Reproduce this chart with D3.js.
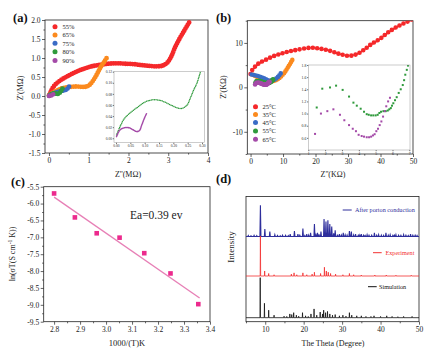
<!DOCTYPE html>
<html>
<head>
<meta charset="utf-8">
<script src="https://cdn.jsdelivr.net/npm/d3@7"></script>
<style>
  body { margin: 0; background: #fff; }
  svg { display: block; }
</style>
</head>
<body>
<svg id="fig" width="430" height="356"></svg>
<script>
// ---- (a) humidity Nyquist data (MOhm) ----
const humLabels = ['55%', '65%', '75%', '80%', '90%'];
const humColors = ['#f5282a', '#fb8a1e', '#3a6cc6', '#2f9a3c', '#a44aa8'];
const rh55 = [[0.02,0.04],[0.06,0.15],[0.15,0.29],[0.3,0.42],[0.45,0.51],[0.65,0.62],[0.86,0.71],[1.07,0.78],[1.28,0.82],[1.5,0.85],[1.7,0.86],[1.9,0.85],[2.12,0.84],[2.35,0.81],[2.55,0.79],[2.72,0.78],[2.86,0.8],[2.98,0.88],[3.08,1.05],[3.18,1.3],[3.28,1.5],[3.38,1.68],[3.47,1.84],[3.55,1.98]];
const rh65 = [[0.0,0.02],[0.1,0.09],[0.25,0.17],[0.4,0.22],[0.55,0.24],[0.7,0.25],[0.85,0.24],[0.95,0.25],[1.03,0.3],[1.12,0.42],[1.22,0.6],[1.31,0.78],[1.39,0.9],[1.45,1.0]];
const rh75 = [[0.02,0.02],[0.1,0.06],[0.2,0.1],[0.3,0.13],[0.38,0.15],[0.44,0.17],[0.48,0.21],[0.52,0.27]];
const rh80 = [[0.002,0.006],[0.014,0.021],[0.03,0.036],[0.055,0.048],[0.078,0.057],[0.1,0.065],[0.125,0.069],[0.148,0.069],[0.171,0.065],[0.195,0.059],[0.218,0.054],[0.232,0.054],[0.248,0.06],[0.259,0.072],[0.271,0.087],[0.282,0.099],[0.295,0.12],[0.32,0.16],[0.34,0.2]];
const rh90 = [[0.002,0.003],[0.014,0.015],[0.03,0.019],[0.045,0.019],[0.06,0.015],[0.072,0.012],[0.082,0.014],[0.09,0.024],[0.099,0.036],[0.107,0.045]];

// ---- (b) temperature Nyquist data (KOhm) ----
const tempLabels = ['25°C', '35°C', '45°C', '55°C', '65°C'];
const tempColors = ['#f5282a', '#fb8a1e', '#3a6cc6', '#2f9a3c', '#a44aa8'];
const t25 = [[0,3.0],[0.5,3.9],[1.3,4.6],[2.5,5.4],[4.4,6.1],[7,7.0],[9.5,7.6],[12,8.1],[14.7,8.5],[18.3,8.9],[20.5,8.8],[22.9,8.5],[25,8.1],[27,7.6],[28.5,7.3],[30,7.1],[31.5,7.2],[33.1,7.6],[35,8.5],[37.3,9.8],[40,11.0],[42.4,12.4],[45.5,13.8],[48.6,14.9],[50,15.5]];
const t35 = [[0.8,2.8],[2.2,2.3],[3.9,1.8],[5.4,1.35],[7,1.4],[8.5,1.9],[10,2.9],[11.6,4.6],[13.1,6.5]];
const t45 = [[0.3,2.9],[1.5,2.7],[2.9,2.4],[4.2,2.0],[5.4,1.6],[7,1.6],[8.5,2.4],[9.5,3.4]];
const t55 = [[1.5,1.1],[1.83,1.41],[2.29,1.43],[2.65,1.46],[3.04,1.39],[3.42,1.28],[3.68,1.18],[3.88,1.13],[4.11,1.08],[4.31,1.03],[4.47,0.99],[4.59,0.98],[4.73,0.97],[4.86,0.97],[5.0,0.97],[5.12,0.98],[5.22,1.01],[5.32,1.03],[5.46,1.04],[5.6,1.04],[5.72,1.05],[5.81,1.07],[5.9,1.09],[5.97,1.13],[6.05,1.17],[6.15,1.22],[6.25,1.27],[6.37,1.34],[6.49,1.4],[6.61,1.47],[6.69,1.55],[6.76,1.64],[6.85,1.72],[6.92,1.79]];
const t65 = [[1.4,0.665],[1.75,1.0],[2.13,1.04],[2.49,1.07],[2.88,0.98],[3.14,0.89],[3.42,0.81],[3.64,0.75],[3.83,0.71],[3.99,0.65],[4.17,0.63],[4.31,0.62],[4.47,0.61],[4.61,0.61],[4.73,0.62],[4.84,0.64],[4.94,0.66],[5.04,0.71],[5.14,0.75],[5.24,0.81],[5.34,0.87],[5.44,0.95],[5.54,1.04],[5.63,1.12],[5.74,1.2],[5.85,1.26]];

// ---- (c) Arrhenius data ----
const invT = [2.80, 2.88, 2.964, 3.052, 3.147, 3.248, 3.355];
const lnSigmaT = [-5.70, -6.41, -6.88, -7.01, -7.47, -8.07, -8.98];

// ---- (d) PXRD peaks [2theta, height] ----
const simPeaks = [[8.7,32],[9.8,11.5],[10.9,6],[12.3,2],[14.9,1.2],[15.6,1],[16.4,3],[16.9,2.5],[17.4,4],[18.1,2],[18.7,1.2],[19.7,4],[20.5,1.5],[21.2,1],[21.9,3],[22.7,7],[23.4,2],[24.3,4.5],[24.9,3],[25.2,6],[25.7,4],[26.2,5],[26.8,3],[27.5,2],[28.2,2.5],[29.3,1.5],[30.2,2],[31.0,1.2],[31.9,4],[32.5,2],[33.8,1.5],[35,1.5],[36.2,1],[37.5,1],[38.3,1.5],[40,1],[41.6,1.5],[43,1],[44.5,0.8],[46,1],[48.2,1]];
const expPeaks = [[8.75,32],[9.85,4],[10.9,2],[12.3,1],[16.8,1.5],[17.5,2.5],[18.2,1],[19.8,2.5],[20.8,1],[22.2,1.5],[22.8,3],[24.4,2],[25.4,7],[25.9,4],[26.4,3],[27,2],[28.3,1.5],[30.2,1],[31.9,2],[33,1],[35,0.8],[38.5,0.8],[41.5,0.8],[44,0.6],[48,0.6]];
const afterPeaks = [[5.6,0.8],[6.3,0.6],[7.1,0.9],[7.8,0.7],[8.75,25],[9.9,6],[11.2,4],[12.5,1.5],[13.2,0.8],[13.9,0.6],[14.5,1],[15.3,0.9],[16.0,0.7],[16.5,2],[17.6,4.5],[18.5,2],[19.0,1],[19.8,6.5],[20.3,0.8],[20.8,2],[21.3,1.2],[21.8,3],[22.8,10],[23.2,1.5],[23.6,3],[24.0,1.8],[24.5,4],[25.3,14],[25.8,12],[26.3,13],[26.8,10],[27.3,8],[27.8,2.5],[28.2,5],[28.8,1.6],[29.3,2],[29.8,1.2],[30.3,3],[30.8,1.4],[31.3,1.2],[31.9,4.5],[32.4,4],[33.0,1.3],[33.5,2],[34.2,1],[34.6,1.2],[35,2],[35.6,1],[36.0,0.8],[36.5,1.5],[37.0,1],[37.7,1],[38.4,3],[39.0,1],[39.5,1.5],[40.2,1.1],[40.8,0.9],[41.4,3],[42.0,1.1],[42.5,1.5],[43.2,0.9],[43.6,1],[44,1.5],[44.7,1],[45.3,0.9],[46,1.5],[46.6,1],[47.2,0.8],[47.8,2],[48.4,1],[49,1],[49.5,0.8]];
const xrdLabels = ['After porton conduction', 'Experiment', 'Simulation'];
const xrdColors = ['#2e2e9c', '#f23030', '#111111'];
const xrdOffsets = [68, 36.5, 3.2];

const serif = "'Liberation Serif','Times New Roman',serif";
const svg = d3.select('#fig').attr('font-family', serif);

// box + bottom/left axes with major and minor ticks
function drawAxes(g, x, y, o) {
    const [x0, x1] = x.range();
    const [y0, y1] = y.range();
    const fs = o.fs || 7.5;
    const style = s => {
        s.select('.domain').remove();
        s.attr('font-family', serif).attr('font-size', fs);
        s.selectAll('line').attr('stroke', '#222').attr('stroke-width', 0.7);
        s.selectAll('text').attr('fill', '#222');
    };
    if (o.xMinor) g.append('g').attr('transform', `translate(0,${y0})`)
        .call(d3.axisBottom(x).tickValues(o.xMinor).tickSize(o.minor || 1.6).tickFormat('')).call(style);
    g.append('g').attr('transform', `translate(0,${y0})`)
        .call(d3.axisBottom(x).tickValues(o.xTicks).tickSize(o.major || 3).tickPadding(o.pad || 1.5).tickFormat(o.xFmt)).call(style);
    if (o.yTicks) {
        if (o.yMinor) g.append('g').attr('transform', `translate(${x0},0)`)
            .call(d3.axisLeft(y).tickValues(o.yMinor).tickSize(o.minor || 1.6).tickFormat('')).call(style);
        g.append('g').attr('transform', `translate(${x0},0)`)
            .call(d3.axisLeft(y).tickValues(o.yTicks).tickSize(o.major || 3).tickPadding(o.pad || 1.5).tickFormat(o.yFmt)).call(style);
    }
    g.append('rect')
        .attr('x', x0).attr('y', y1).attr('width', x1 - x0).attr('height', y0 - y1)
        .attr('fill', 'none').attr('stroke', o.border || '#222').attr('stroke-width', o.bw || 0.8);
}

function clipFor(id, x, y) {
    const [x0, x1] = x.range();
    const [y0, y1] = y.range();
    svg.append('clipPath').attr('id', id).append('rect')
        .attr('x', x0).attr('y', y1).attr('width', x1 - x0).attr('height', y0 - y1);
    return svg.append('g').attr('clip-path', `url(#${id})`);
}

// dense dotted series: dots laid along a curve through the read points
function dotted(g, data, x, y, color, w, gap) {
    g.append('path')
        .datum(data)
        .attr('d', d3.line().x(d => x(d[0])).y(d => y(d[1])).curve(d3.curveCatmullRom))
        .attr('fill', 'none')
        .attr('stroke', color)
        .attr('stroke-width', w)
        .attr('stroke-linecap', 'round')
        .attr('stroke-dasharray', `0 ${gap}`);
}

function dots(g, data, x, y, color, r) {
    g.selectAll(null).data(data).enter().append('circle')
        .attr('cx', d => x(d[0])).attr('cy', d => y(d[1])).attr('r', r)
        .attr('fill', color);
}

function label(txt, x, y, size, opts = {}) {
    const t = svg.append('text')
        .attr('x', x).attr('y', y)
        .attr('font-size', size)
        .attr('text-anchor', opts.anchor || 'middle')
        .attr('fill', opts.fill || '#222')
        .attr('font-weight', opts.bold ? 'bold' : null)
        .text(txt);
    if (opts.rotate) t.attr('transform', `rotate(-90,${x},${y})`);
    return t;
}

const fmt1 = v => v.toFixed(1);
const fmt2 = v => v.toFixed(2);
const fmtD = v => String(v);

// ================= (a) =================
const ax = d3.scaleLinear().domain([-0.1, 4]).range([45, 208]);
const ay = d3.scaleLinear().domain([-1.5, 2]).range([153, 20]);
drawAxes(svg.append('g'), ax, ay, {
    xTicks: [0, 1, 2, 3, 4], xMinor: [0.5, 1.5, 2.5, 3.5], xFmt: fmtD,
    yTicks: d3.range(-1.5, 2.01, 0.5), yMinor: d3.range(-1.25, 2, 0.5), yFmt: fmt1
});
const aPlot = clipFor('clipA', ax, ay);
[rh55, rh65, rh75, rh80, rh90].forEach((s, i) => dotted(aPlot, s, ax, ay, humColors[i], 4.8, 2.4));
humLabels.forEach((l, i) => {
    const yy = [26.7, 35, 43.3, 51.7, 60.5][i];
    svg.append('circle').attr('cx', 55).attr('cy', yy).attr('r', 2.5).attr('fill', humColors[i]);
    label(l, 62.5, yy + 2.2, 6.5, { anchor: 'start' });
});
label("Z''(MΩ)", 128, 177, 8);
label("Z'(MΩ)", 23, 88, 8, { rotate: true });
label('(a)', 13, 21.5, 12.5, { anchor: 'start', bold: true, fill: '#111' });

// inset (a)
const iax = d3.scaleLinear().domain([-0.007, 0.308]).range([114, 204.3]);
const iay = d3.scaleLinear().domain([-0.008, 0.12]).range([142.7, 71.7]);
svg.append('rect').attr('x', 114).attr('y', 71.7).attr('width', 90.3).attr('height', 71)
    .attr('fill', '#fff');
const iaPlot = clipFor('clipIA', iax, iay);
dotted(iaPlot, rh80, iax, iay, humColors[3], 1.5, 1.6);
dotted(iaPlot, rh90, iax, iay, humColors[4], 1.6, 0.9);
drawAxes(svg.append('g'), iax, iay, {
    xTicks: d3.range(0, 0.31, 0.05), xFmt: fmt2,
    yTicks: d3.range(0, 0.121, 0.02), yFmt: fmt2,
    fs: 3.6, major: 1.2, pad: 0.8, border: '#999', bw: 0.5
});

// ================= (b) =================
const bx = d3.scaleLinear().domain([-1, 50]).range([247.3, 413]);
const by = d3.scaleLinear().domain([-15, 15]).range([154, 20.7]);
drawAxes(svg.append('g'), bx, by, {
    xTicks: [0, 10, 20, 30, 40, 50], xMinor: [5, 15, 25, 35, 45], xFmt: fmtD,
    yTicks: [-10, 0, 10], yMinor: [-15, -5, 5, 15], yFmt: fmtD
});
const bPlot = clipFor('clipB', bx, by);
dotted(bPlot, t25, bx, by, tempColors[0], 4.6, 4.4);
dotted(bPlot, t35, bx, by, tempColors[1], 4.6, 2.2);
dotted(bPlot, t45, bx, by, tempColors[2], 4.6, 2.2);
dots(bPlot, t55, bx, by, tempColors[3], 2.3);
dots(bPlot, t65, bx, by, tempColors[4], 2.3);
tempLabels.forEach((l, i) => {
    const yy = [106.7, 114.5, 122.5, 131, 139.3][i];
    svg.append('circle').attr('cx', 255.5).attr('cy', yy).attr('r', 2.5).attr('fill', tempColors[i]);
    label(l, 262.5, yy + 2.2, 6.5, { anchor: 'start' });
});
label("Z''(KΩ)", 333, 177, 8);
label("Z'(KΩ)", 226, 87, 8, { rotate: true });
label('(b)', 216, 21.5, 12.5, { anchor: 'start', bold: true, fill: '#111' });

// inset (b)
const ibx = d3.scaleLinear().domain([1, 7.04]).range([308.3, 410]);
const iby = d3.scaleLinear().domain([0.4, 1.8]).range([150, 65]);
svg.append('rect').attr('x', 308.3).attr('y', 65).attr('width', 101.7).attr('height', 85).attr('fill', '#fff');
const ibPlot = clipFor('clipIB', ibx, iby);
[t55, t65].forEach((s, k) => {
    ibPlot.selectAll(null).data(s).enter().append('rect')
        .attr('x', d => ibx(d[0]) - 1).attr('y', d => iby(d[1]) - 1)
        .attr('width', 2).attr('height', 2)
        .attr('fill', tempColors[3 + k]);
});
drawAxes(svg.append('g'), ibx, iby, {
    xTicks: [1, 2, 3, 4, 5, 6, 7], xFmt: fmtD,
    yTicks: [0.6, 0.8, 1.0, 1.2, 1.4, 1.6, 1.8], yFmt: fmt1,
    fs: 3.8, major: 1.2, pad: 0.8, border: '#999', bw: 0.5
});

// ================= (c) =================
const cx = d3.scaleLinear().domain([2.76, 3.4]).range([43.7, 210]);
const cy = d3.scaleLinear().domain([-9.5, -5.5]).range([321.7, 186.7]);
drawAxes(svg.append('g'), cx, cy, {
    xTicks: d3.range(2.8, 3.41, 0.1), xMinor: d3.range(2.85, 3.4, 0.1), xFmt: fmt1,
    yTicks: d3.range(-9.5, -5.49, 0.5), yMinor: d3.range(-9.25, -5.5, 0.5), yFmt: fmt1
});
// least-squares fit line
const mx = d3.mean(invT), my = d3.mean(lnSigmaT);
const slope = d3.sum(invT.map((v, i) => (v - mx) * (lnSigmaT[i] - my))) / d3.sum(invT.map(v => (v - mx) ** 2));
const icpt = my - slope * mx;
const fx = [2.8, 3.36];
svg.append('line')
    .attr('x1', cx(fx[0])).attr('y1', cy(slope * fx[0] + icpt))
    .attr('x2', cx(fx[1])).attr('y2', cy(slope * fx[1] + icpt))
    .attr('stroke', '#e77fb6').attr('stroke-width', 1.3);
svg.selectAll(null).data(invT).enter().append('rect')
    .attr('x', (d) => cx(d) - 2.3).attr('y', (d, i) => cy(lnSigmaT[i]) - 2.3)
    .attr('width', 4.6).attr('height', 4.6).attr('fill', '#ec2a8d');
label('Ea=0.39 ev', 130, 219, 11.5, { anchor: 'start' });
label('1000/(T)K', 127, 345.5, 8.5);
const cyl = label('', 15, 254, 8, { rotate: true });
cyl.append('tspan').text('ln(σT(S cm');
cyl.append('tspan').attr('font-size', 5.5).attr('dy', -3).text('-1');
cyl.append('tspan').attr('dy', 3).text(' K))');
label('(c)', 11, 186, 12.5, { anchor: 'start', bold: true, fill: '#111' });

// ================= (d) =================
const dx = d3.scaleLinear().domain([5, 50]).range([246, 419]);
const dy = d3.scaleLinear().domain([0, 100]).range([321.7, 196.5]);
drawAxes(svg.append('g'), dx, dy, {
    xTicks: [10, 20, 30, 40, 50], xMinor: [5, 15, 25, 35, 45], xFmt: fmtD
});
const dPlot = clipFor('clipD', dx, dy);
[afterPeaks, expPeaks, simPeaks].forEach((peaks, k) => {
    const base = xrdOffsets[k];
    const w = k === 0 ? 0.13 : 0.06;
    const pts = [[5, base]];
    peaks.slice().sort((a, b) => a[0] - b[0]).forEach(p => {
        pts.push([p[0] - w, base], [p[0], base + p[1]], [p[0] + w, base]);
    });
    pts.push([50, base]);
    dPlot.append('path').datum(pts)
        .attr('d', d3.line().x(d => dx(d[0])).y(d => dy(d[1])))
        .attr('fill', 'none').attr('stroke', xrdColors[k])
        .attr('stroke-width', k === 0 ? 1.1 : 0.8);
});
const legD = [[342.7, 351.7, 210, 355], [373, 381.7, 252.7, 385.5], [368, 376.7, 286.7, 379]];
legD.forEach((r, k) => {
    svg.append('line').attr('x1', r[0]).attr('x2', r[1]).attr('y1', r[2]).attr('y2', r[2])
        .attr('stroke', xrdColors[k]).attr('stroke-width', 1);
    label(xrdLabels[k], r[3], r[2] + 2, 6.2, { anchor: 'start', fill: xrdColors[k] });
});
label('The Theta (Degree)', 333, 346, 8);
label('Intensity', 234, 247, 9, { rotate: true });
label('(d)', 216, 183, 12.5, { anchor: 'start', bold: true, fill: '#111' });
</script>
</body>
</html>
